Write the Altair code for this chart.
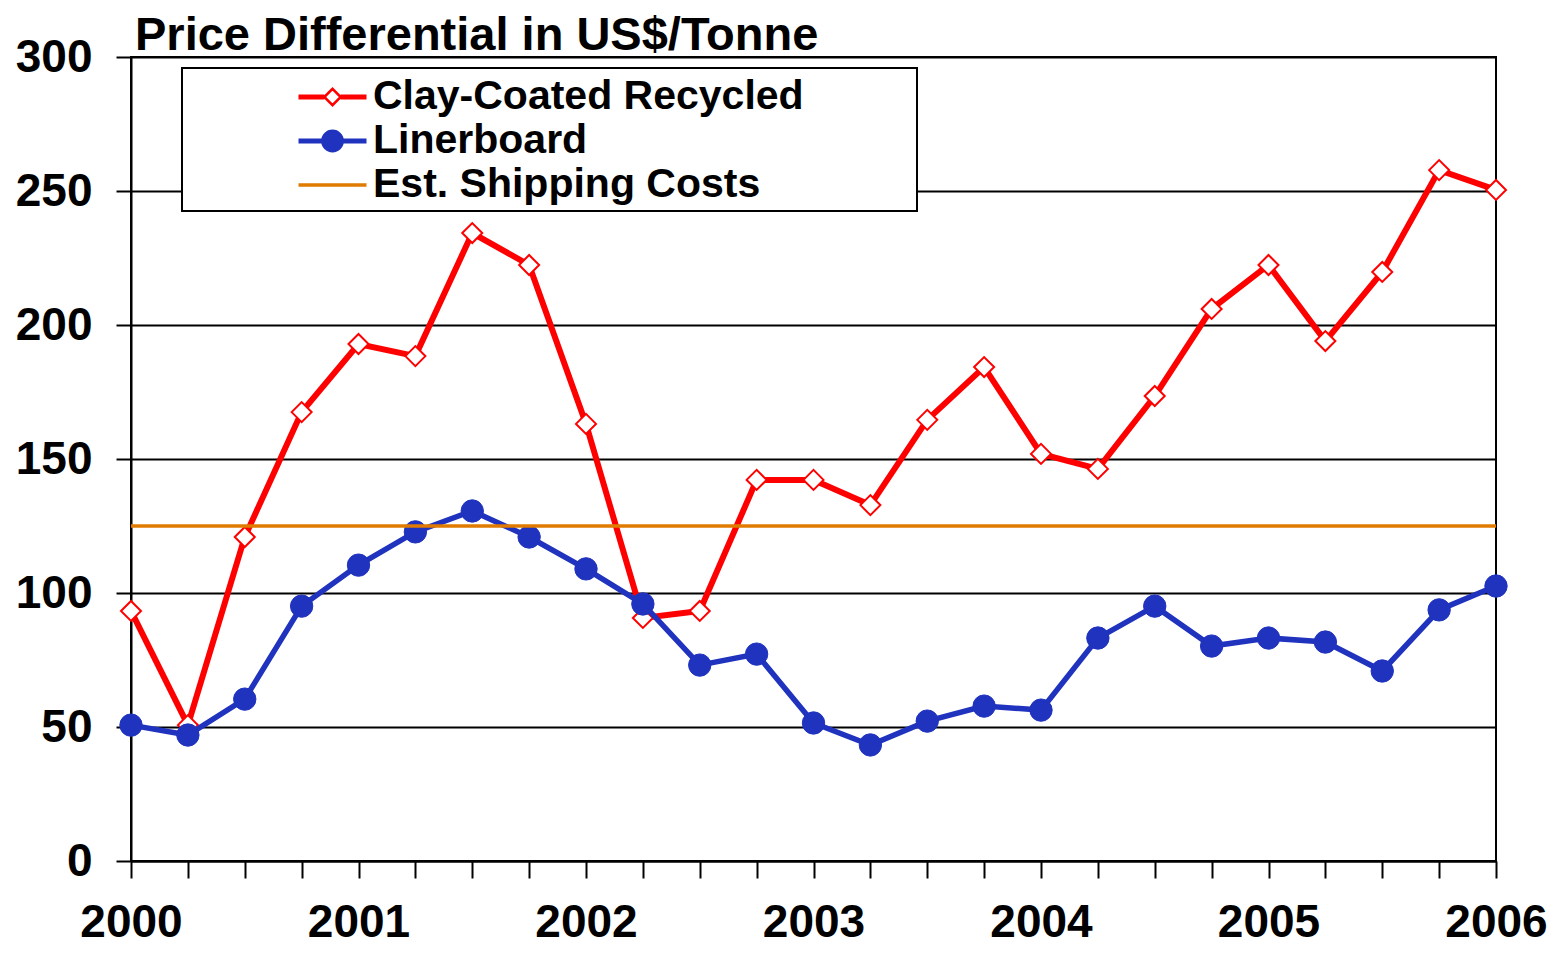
import altair as alt
import pandas as pd

quarters = [2000 + 0.25 * i for i in range(25)]
clay_coated = [93.3, 50.7, 120.9, 167.5, 192.9, 188.4, 234.3, 222.4, 163.1, 90.7,
               93.3, 142.2, 142.2, 132.8, 164.6, 184.3, 151.9, 146.3, 173.5, 206.0,
               222.4, 194.0, 219.8, 257.8, 250.4]
linerboard = [50.7, 47.0, 60.4, 95.1, 110.4, 122.8, 130.6, 120.9, 109.0, 95.9,
              73.1, 77.2, 51.5, 43.3, 52.2, 57.8, 56.3, 83.2, 95.1, 80.2,
              83.2, 81.7, 70.9, 93.7, 102.6]
shipping_cost = [125]
series_names = ["Clay-Coated Recycled", "Linerboard", "Est. Shipping Costs"]
y_ticks = [0, 50, 100, 150, 200, 250, 300]

RED = "#FF0000"
BLUE = "#2033BE"
ORANGE = "#E07B00"
FONT = "Liberation Sans"

df = pd.DataFrame({"t": quarters, "clay": clay_coated, "liner": linerboard})
ship_df = pd.DataFrame({"v": shipping_cost})
leg_df = pd.DataFrame({"series": series_names})

xscale = alt.Scale(domain=[2000, 2006], nice=False, zero=False)
yscale = alt.Scale(domain=[0, 300], nice=False)

xaxis = alt.Axis(
    values=quarters,
    labelExpr="datum.value % 1 === 0 ? format(datum.value, 'd') : ''",
    title=None, grid=False, tickSize=17, tickWidth=2, tickColor="black",
    domainColor="black", domainWidth=2, labelFont=FONT, labelFontSize=46,
    labelFontWeight="bold", labelColor="black", labelPadding=22,
    labelFlush=False, labelOverlap=False,
)
yaxis = alt.Axis(
    values=y_ticks, title=None, grid=True, gridColor="black", gridWidth=2,
    gridOpacity=1, tickSize=15, tickWidth=2, tickColor="black",
    domainColor="black", domainWidth=2, labelFont=FONT, labelFontSize=46,
    labelFontWeight="bold", labelColor="black", labelPadding=24,
)

base = alt.Chart(df)

clay_line = base.mark_line(
    color=RED, strokeWidth=6,
    point=alt.OverlayMarkDef(shape="diamond", filled=True, fill="white",
                             stroke=RED, strokeWidth=2, size=400),
).encode(
    x=alt.X("t:Q", scale=xscale, axis=xaxis),
    y=alt.Y("clay:Q", scale=yscale, axis=yaxis),
)

liner_line = base.mark_line(
    color=BLUE, strokeWidth=5.5,
    point=alt.OverlayMarkDef(shape="circle", filled=True, fill=BLUE,
                             stroke=BLUE, strokeWidth=1, size=500),
).encode(
    x=alt.X("t:Q", scale=xscale),
    y=alt.Y("liner:Q", scale=yscale),
)

ship_rule = alt.Chart(ship_df).mark_rule(color=ORANGE, strokeWidth=3.5).encode(
    y=alt.Y("v:Q", scale=yscale)
)

legend_box = alt.Chart(alt.Data(values=[{}])).mark_rect(
    fill="white", stroke="black", strokeWidth=2
).encode(
    x=alt.value(51), x2=alt.value(786), y=alt.value(11), y2=alt.value(154)
)

clay_sym = ("M-1 -0.04H-0.24M-1 0H-0.24M-1 0.04H-0.24 "
            "M0.24 -0.04H1M0.24 0H1M0.24 0.04H1 "
            "M-0.24 0L0 -0.24L0.24 0L0 0.24Z")
liner_sym = ("M-1 -0.04H1M-1 0H1M-1 0.04H1 "
             "M-0.3 0A0.3 0.3 0 1 0 0.3 0A0.3 0.3 0 1 0 -0.3 0Z")
ship_sym = "M-1 -0.015H1M-1 0.015H1"

legend_layer = alt.Chart(leg_df).mark_point(
    clip=True, size=4624, strokeWidth=2.5, opacity=1
).encode(
    x=alt.value(-3000), y=alt.value(-3000),
    stroke=alt.Stroke("series:N",
                      scale=alt.Scale(domain=series_names, range=[RED, BLUE, ORANGE]),
                      legend=alt.Legend(
                          title=None, orient="none", legendX=166, legendY=18,
                          padding=0, offset=0, clipHeight=44, rowPadding=0,
                          labelFont=FONT, labelFontSize=41, labelFontWeight="bold",
                          labelColor="black", labelOffset=5, labelLimit=1000,
                          symbolSize=4624, symbolStrokeWidth=2.5,
                      )),
    fill=alt.Fill("series:N",
                  scale=alt.Scale(domain=series_names, range=["white", BLUE, ORANGE])),
    shape=alt.Shape("series:N",
                    scale=alt.Scale(domain=series_names,
                                    range=[clay_sym, liner_sym, ship_sym])),
)

chart = alt.layer(
    clay_line, liner_line, ship_rule, legend_box, legend_layer
).properties(
    width=1365, height=804,
    padding={"left": 123, "top": 49, "right": 53, "bottom": 86},
    autosize=alt.AutoSizeParams(type="none"),
    title=alt.TitleParams(
        "Price Differential in US$/Tonne", anchor="start", frame="group",
        fontSize=47, font=FONT, fontWeight="bold", color="black", dx=4, dy=34,
        offset=8,
    ),
).configure(font=FONT).configure_view(stroke="black", strokeWidth=2)

chart.save("out.html", embed_options={"renderer": "svg", "actions": False})
